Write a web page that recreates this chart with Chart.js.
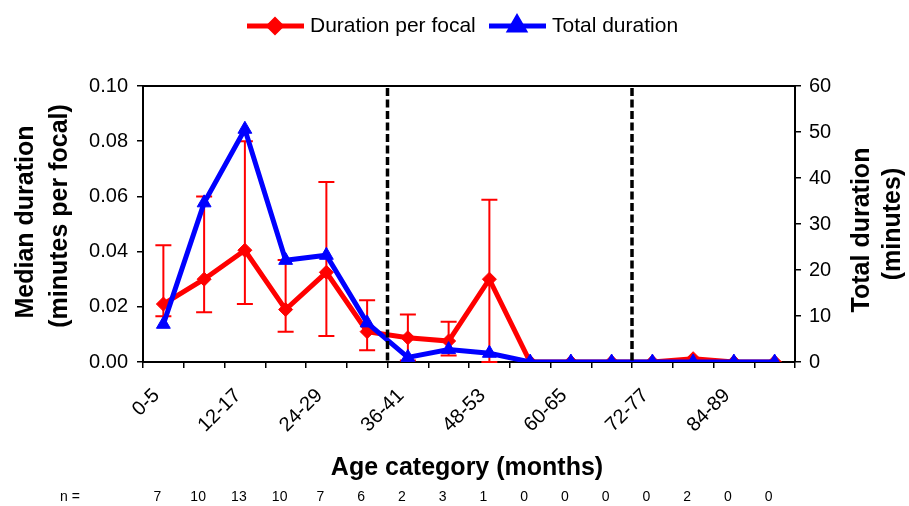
<!DOCTYPE html>
<html>
<head>
<meta charset="utf-8">
<script src="https://cdn.jsdelivr.net/npm/chart.js@4.4.1/dist/chart.umd.min.js"></script>
<style>
  html, body { margin: 0; padding: 0; background: #fff; }
  #wrap { width: 909px; height: 506px; }
</style>
</head>
<body>
<div id="wrap"><canvas id="chart" width="909" height="506"></canvas></div>
<script>
const categories = ['0-5', '6-11', '12-17', '18-23', '24-29', '30-35', '36-41', '42-47',
    '48-53', '54-59', '60-65', '66-71', '72-77', '78-83', '84-89', '90-95'];
const perFocal = [0.021, 0.030, 0.0405, 0.019, 0.0325, 0.011, 0.0088, 0.0076,
    0.030, 0, 0, 0, 0, 0.0012, 0, 0];
const perFocalLow = [0.0166, 0.018, 0.021, 0.011, 0.0094, 0.0043, 0.0005, 0.0024,
    0, 0, 0, 0, 0, 0.0012, 0, 0];
const perFocalHigh = [0.0423, 0.060, 0.080, 0.037, 0.0652, 0.0224, 0.0172, 0.0146,
    0.0588, 0, 0, 0, 0, 0.0012, 0, 0];
const totalDuration = [8.2, 34.6, 50.6, 22.1, 23.2, 8.5, 1.0, 2.7, 1.9, 0, 0, 0, 0, 0, 0, 0];
const sampleSizes = [7, 10, 13, 10, 7, 6, 2, 3, 1, 0, 0, 0, 0, 2, 0, 0];
const periodBreaks = [5, 11]; // dashed line after these category indexes

const FONT = "'Liberation Sans', Arial, sans-serif";
const RED = '#ff0000';
const BLUE = '#0000ff';

// error bars, dashed period lines, legend, axis titles and n row
const overlay = {
    id: 'overlay',
    beforeDatasetsDraw(chart) {
        const ctx = chart.ctx;
        const x = chart.scales.x;
        const y = chart.scales.y;
        ctx.save();
        ctx.strokeStyle = RED;
        ctx.lineWidth = 2;
        perFocal.forEach((v, i) => {
            if (perFocalHigh[i] === perFocalLow[i]) return;
            const px = x.getPixelForValue(i);
            const top = y.getPixelForValue(perFocalHigh[i]);
            const bot = y.getPixelForValue(perFocalLow[i]);
            ctx.beginPath();
            ctx.moveTo(px, top); ctx.lineTo(px, bot);
            ctx.moveTo(px - 8, top); ctx.lineTo(px + 8, top);
            ctx.moveTo(px - 8, bot); ctx.lineTo(px + 8, bot);
            ctx.stroke();
        });
        ctx.restore();
    },
    afterDatasetsDraw(chart) {
        const ctx = chart.ctx;
        const x = chart.scales.x;
        const area = chart.chartArea;
        ctx.save();
        ctx.strokeStyle = '#000';
        ctx.lineWidth = 3.5;
        ctx.setLineDash([8, 3.5]);
        periodBreaks.forEach(i => {
            const px = (x.getPixelForValue(i) + x.getPixelForValue(i + 1)) / 2;
            ctx.beginPath();
            ctx.moveTo(px, area.top + 2);
            ctx.lineTo(px, area.bottom);
            ctx.stroke();
        });
        ctx.setLineDash([]);
        ctx.lineWidth = 2;
        ctx.beginPath();
        ctx.moveTo(area.left, area.top);
        ctx.lineTo(area.right, area.top);
        ctx.stroke();
        ctx.restore();
    },
    afterDraw(chart) {
        const ctx = chart.ctx;
        const x = chart.scales.x;
        const area = chart.chartArea;
        ctx.save();

        // legend
        const legendY = 26;
        const items = [
            { label: 'Duration per focal', color: RED, style: 'rectRot', x0: 247, r: 6 },
            { label: 'Total duration', color: BLUE, style: 'triangle', x0: 489, r: 8 }
        ];
        items.forEach(it => {
            ctx.strokeStyle = it.color;
            ctx.fillStyle = it.color;
            ctx.lineWidth = 5;
            ctx.beginPath();
            ctx.moveTo(it.x0, legendY);
            ctx.lineTo(it.x0 + 57, legendY);
            ctx.stroke();
            Chart.helpers.drawPoint(ctx, { pointStyle: it.style, radius: it.r, borderWidth: 1 }, it.x0 + 28, legendY);
            ctx.fillStyle = '#000';
            ctx.font = '21px ' + FONT;
            ctx.textAlign = 'left';
            ctx.textBaseline = 'middle';
            ctx.fillText(it.label, it.x0 + 63, legendY);
        });

        // axis titles
        ctx.fillStyle = '#000';
        ctx.font = 'bold 25px ' + FONT;
        ctx.textAlign = 'center';
        ctx.textBaseline = 'middle';
        const cy = (area.top + area.bottom) / 2;
        const vertical = (text, px, py) => {
            ctx.save();
            ctx.translate(px, py);
            ctx.rotate(-Math.PI / 2);
            ctx.fillText(text, 0, 0);
            ctx.restore();
        };
        vertical('Median duration', 26, cy - 2);
        vertical('(minutes per focal)', 60, cy - 8);
        vertical('Total duration', 862, cy + 6);
        vertical('(minutes)', 893, cy);
        ctx.fillText('Age category (months)', (area.left + area.right) / 2 - 2, 468);

        // sample sizes
        ctx.font = '14px ' + FONT;
        ctx.textAlign = 'left';
        ctx.fillText('n =', 60, 497);
        ctx.textAlign = 'center';
        sampleSizes.forEach((n, i) => {
            ctx.fillText(String(n), x.getPixelForValue(i) - 6, 497);
        });
        ctx.restore();
    }
};

new Chart(document.getElementById('chart'), {
    type: 'line',
    data: {
        labels: categories,
        datasets: [
            {
                label: 'Duration per focal',
                data: perFocal,
                yAxisID: 'y',
                borderColor: RED,
                backgroundColor: RED,
                borderWidth: 5,
                pointStyle: 'rectRot',
                pointRadius: 7,
                pointBorderWidth: 1,
                tension: 0,
                order: 1
            },
            {
                label: 'Total duration',
                data: totalDuration,
                yAxisID: 'y1',
                borderColor: BLUE,
                backgroundColor: BLUE,
                borderWidth: 5,
                pointStyle: 'triangle',
                pointRadius: 8,
                pointBorderWidth: 1,
                tension: 0,
                order: 0
            }
        ]
    },
    options: {
        responsive: false,
        animation: false,
        devicePixelRatio: 1,
        layout: { padding: { top: 86, left: 0, right: 0, bottom: 0 } },
        plugins: {
            legend: { display: false },
            tooltip: { enabled: false }
        },
        scales: {
            x: {
                offset: true,
                afterFit: s => { s.height = 144; },
                grid: { offset: true, drawOnChartArea: false, color: '#000', tickLength: 6, lineWidth: 1.5 },
                border: { color: '#000', width: 2 },
                ticks: {
                    autoSkip: false,
                    minRotation: 45,
                    maxRotation: 45,
                    padding: 16,
                    labelOffset: -7,
                    color: '#000',
                    font: { family: FONT, size: 20 },
                    callback: (v, i) => (i % 2 === 0 ? categories[i] : '')
                }
            },
            y: {
                position: 'left',
                min: 0,
                max: 0.1,
                afterFit: s => { s.width = 143; },
                grid: { drawOnChartArea: false, color: '#000', tickLength: 6, lineWidth: 1.5 },
                border: { color: '#000', width: 2 },
                ticks: {
                    stepSize: 0.02,
                    padding: 9,
                    color: '#000',
                    font: { family: FONT, size: 20 },
                    callback: v => v.toFixed(2)
                }
            },
            y1: {
                position: 'right',
                min: 0,
                max: 60,
                afterFit: s => { s.width = 114; },
                grid: { drawOnChartArea: false, color: '#000', tickLength: 6, lineWidth: 1.5 },
                border: { color: '#000', width: 2 },
                ticks: {
                    stepSize: 10,
                    padding: 8,
                    color: '#000',
                    font: { family: FONT, size: 20 }
                }
            }
        }
    },
    plugins: [overlay]
});
</script>
</body>
</html>
